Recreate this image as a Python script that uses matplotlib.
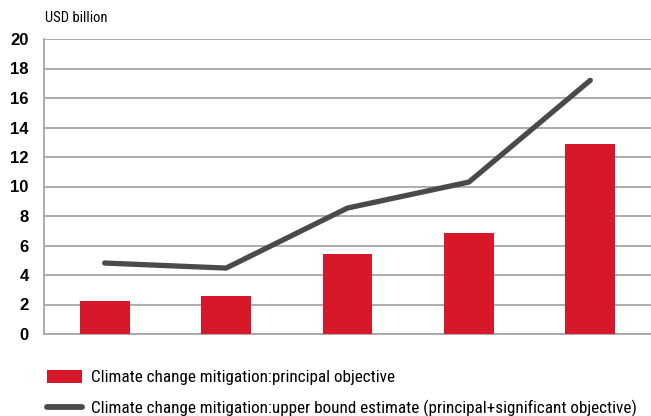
import matplotlib
matplotlib.use("Agg")
import matplotlib.pyplot as plt
from matplotlib.lines import Line2D
from matplotlib.patches import Patch
from matplotlib import font_manager

names = {f.name for f in font_manager.fontManager.ttflist}
cond = next((n for n in ("Roboto Condensed", "Archivo Narrow", "PT Sans Narrow", "Liberation Sans Narrow") if n in names), "DejaVu Sans")
plt.rcParams['font.family'] = [cond, 'DejaVu Sans']

categories = ["2013", "2014", "2015", "2016", "2017"]
principal = [2.24, 2.58, 5.42, 6.85, 12.88]
upper_bound = [4.81, 4.47, 8.54, 10.3, 17.2]
yticks = [0, 2, 4, 6, 8, 10, 12, 14, 16, 18, 20]
legend_labels = ["Climate change mitigation:principal objective",
                 "Climate change mitigation:upper bound estimate (principal+significant objective)"]

red = "#d7182a"
dark = "#4a4a4a"
grid = "#a6a6a6"

fig = plt.figure(figsize=(6.51, 4.16), dpi=100)
ax = fig.add_axes([44/651, (416-334)/416, (651-44)/651, (334-39)/416])
x = list(range(len(categories)))
ax.bar(x, principal, width=0.41, color=red, zorder=3)
ax.plot(x, upper_bound, color=dark, linewidth=3.8, solid_capstyle='round', solid_joinstyle='round', zorder=4)
ax.set_xlim(-0.5, 4.5)
ax.set_ylim(0, 20)
ax.set_yticks(yticks)
tick_family = ["Liberation Sans", "DejaVu Sans"] if "Liberation Sans" in names else ["DejaVu Sans"]
ax.set_yticklabels([str(t) for t in yticks], fontweight='bold', fontsize=12, family=tick_family)
ax.set_xticks([])
ax.yaxis.grid(True, color=grid, linewidth=1.3, zorder=0)
ax.set_axisbelow(True)
for s in ['top', 'right']:
    ax.spines[s].set_visible(False)
for s in ['left', 'bottom']:
    ax.spines[s].set_color(grid)
    ax.spines[s].set_linewidth(1.3)
ax.tick_params(axis='y', length=0, pad=11)

fig.text(45/651, 1 - 18/416, "USD billion", fontsize=10.5, ha='left', va='center')

# fit legend font so the long label spans ~545 px
renderer = fig.canvas.get_renderer()
fs = 12.0
t = fig.text(0, 0, legend_labels[1], fontsize=fs)
w = t.get_window_extent(renderer).width
t.remove()
fs = fs * 545.0 / w
em = fs * 100 / 72

handles = [Patch(facecolor=red, edgecolor='none'),
           Line2D([0], [0], color=dark, linewidth=4.2, solid_capstyle='round')]
fig.legend(handles, legend_labels, loc='upper left', bbox_to_anchor=(47/651, 1 - 370/416),
           frameon=False, fontsize=fs, handlelength=35/em, handleheight=0.8,
           labelspacing=0.6 + 4/em, handletextpad=9/em, borderaxespad=0, borderpad=0)

fig.savefig("out.png", dpi=100)
